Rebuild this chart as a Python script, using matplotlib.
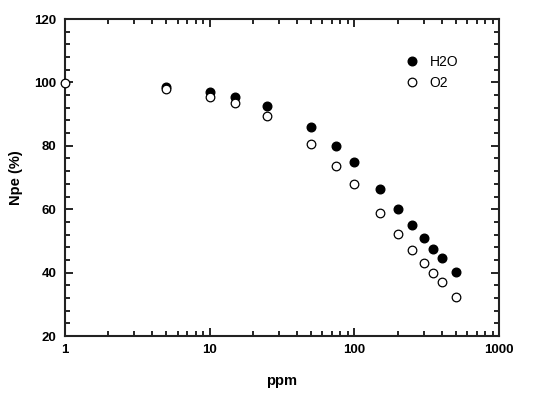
import matplotlib
matplotlib.use("Agg")
import matplotlib.pyplot as plt
from matplotlib.ticker import MultipleLocator, LogLocator, NullFormatter, FixedLocator, FixedFormatter

plt.rcParams['font.family'] = ['Liberation Sans', 'DejaVu Sans']

# data
h2o_ppm = [5, 10, 15, 25, 50, 75, 100, 150, 200, 250, 300, 350, 400, 500]
h2o_npe = [98.6, 97.0, 95.5, 92.5, 85.8, 80.0, 74.9, 66.4, 60.1, 55.0, 50.8, 47.3, 44.5, 40.1]
o2_ppm = [1, 5, 10, 15, 25, 50, 75, 100, 150, 200, 250, 300, 350, 400, 500]
o2_npe = [99.7, 97.9, 95.5, 93.4, 89.3, 80.6, 73.7, 67.8, 58.9, 52.3, 47.2, 43.1, 39.8, 36.9, 32.4]

xticks = [1, 10, 100, 1000]
xlabels = ['1', '10', '100', '1000']
yticks = [20, 40, 60, 80, 100, 120]

fig = plt.figure(figsize=(5.45, 3.96), dpi=100)
ax = fig.add_axes([0.119, 0.1515, 0.797, 0.8005])

ax.plot(h2o_ppm, h2o_npe, 'o', color='black', markersize=6.2, label='H2O', clip_on=False, zorder=3)
ax.plot(o2_ppm, o2_npe, 'o', markerfacecolor='white', markeredgecolor='black', markeredgewidth=0.9,
        markersize=6.2, label='O2', clip_on=False, zorder=3)

ax.set_xscale('log')
ax.set_xlim(1, 1000)
ax.set_ylim(20, 120)

ax.xaxis.set_major_locator(FixedLocator(xticks))
ax.xaxis.set_major_formatter(FixedFormatter(xlabels))
ax.xaxis.set_minor_locator(LogLocator(base=10, subs=range(2, 10)))
ax.xaxis.set_minor_formatter(NullFormatter())
ax.yaxis.set_major_locator(FixedLocator(yticks))
ax.yaxis.set_minor_locator(MultipleLocator(4))

ax.tick_params(which='both', direction='in', top=True, right=True, width=1.2)
ax.tick_params(which='major', length=6, labelsize=9.5, pad=6)
ax.tick_params(which='minor', length=3.5)
for lbl in ax.get_xticklabels() + ax.get_yticklabels():
    lbl.set_fontweight('bold')

for s in ax.spines.values():
    s.set_linewidth(1.5)
    s.set_color('#222222')

ax.set_xlabel('ppm', fontsize=10.5, fontweight='bold', labelpad=13)
ax.set_ylabel('Npe (%)', fontsize=10.5, fontweight='bold', labelpad=8)

ax.legend(loc='upper right', bbox_to_anchor=(0.935, 0.925), frameon=False, fontsize=10,
          handletextpad=0.8, labelspacing=0.5, handlelength=1.0)

fig.savefig('out.png', dpi=100)
